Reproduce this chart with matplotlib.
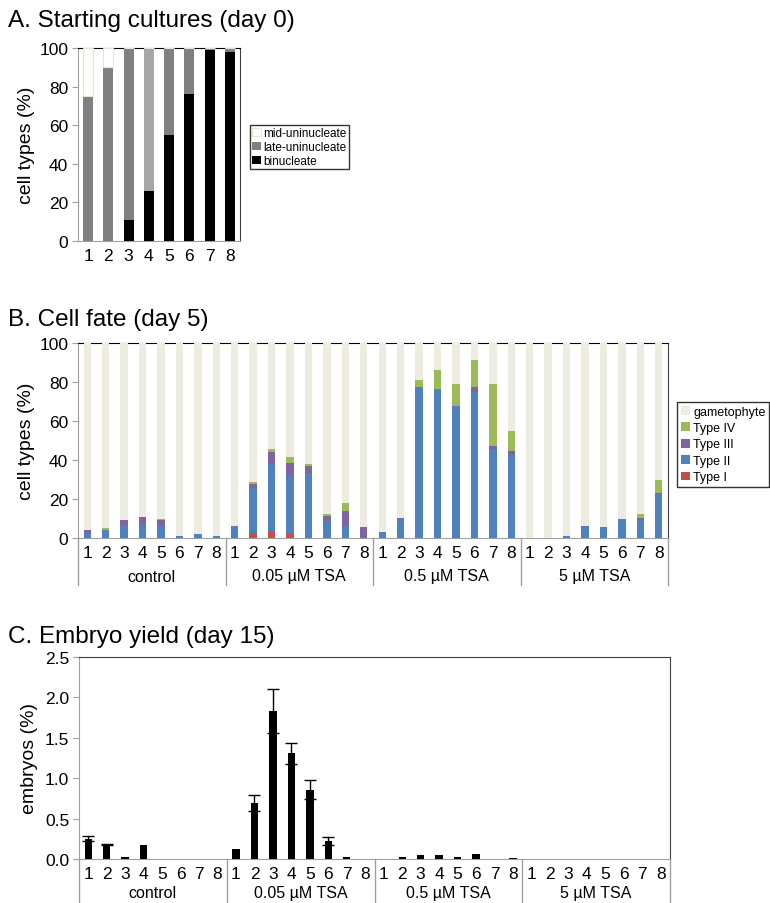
import numpy as np
import matplotlib.pyplot as plt

plt.rcParams['font.family'] = ['Liberation Sans', 'DejaVu Sans']

# ---- data ----
# A. starting cultures (day 0), % of cells
a_cats = ['1', '2', '3', '4', '5', '6', '7', '8']
a_bin = [0, 0, 11, 26, 55, 76, 99, 98]
a_late = [75, 90, 89, 74, 45, 24, 1, 2]
a_mid = [25, 10, 0, 0, 0, 0, 0, 0]

# B. cell fate (day 5), % of cells
groups = ['control', '0.05 µM TSA', '0.5 µM TSA', '5 µM TSA']
b_type1 = [0, 0, 0, 0, 0, 0, 0, 0,
           0, 2.8, 3.5, 1.8, 0, 0, 0, 0,
           0, 0, 0, 0, 0.5, 0, 0, 0,
           0, 0, 0, 0, 0, 0, 0, 0]
b_type2 = [2.5, 4.0, 6.0, 7.3, 6.3, 1.2, 1.8, 1.2,
           6.3, 22.7, 34.5, 30.2, 33.5, 8.7, 6.0, 0,
           3.2, 10.5, 77.5, 76.5, 67.0, 75.0, 45.5, 42.5,
           0, 0, 1.2, 6.2, 5.8, 9.7, 9.3, 22.5]
b_type3 = [1.8, 0.3, 3.4, 3.7, 2.9, 0, 0, 0,
           0, 2.0, 6.0, 6.5, 3.3, 2.5, 8.0, 5.8,
           0, 0, 0, 0, 0, 2.5, 1.5, 2.0,
           0, 0, 0, 0, 0, 0, 1.2, 0.5]
b_type4 = [0, 0.7, 0, 0, 0.6, 0, 0, 0,
           0, 1.0, 1.8, 3.0, 1.0, 1.0, 3.8, 0,
           0, 0, 3.7, 9.7, 11.5, 14.0, 32.0, 10.5,
           0, 0, 0, 0, 0, 0, 2.0, 6.7]

# C. embryo yield (day 15), %
c_mean = [0.25, 0.18, 0.02, 0.17, 0.0, 0.005, 0.0, 0.0,
          0.12, 0.69, 1.83, 1.31, 0.86, 0.22, 0.02, 0.005,
          0.005, 0.02, 0.05, 0.05, 0.03, 0.06, 0.005, 0.01,
          0, 0, 0, 0, 0, 0, 0, 0]
c_err = [0.03, 0.01, 0, 0, 0, 0, 0, 0,
         0, 0.10, 0.27, 0.13, 0.12, 0.05, 0, 0,
         0, 0, 0, 0, 0, 0, 0, 0,
         0, 0, 0, 0, 0, 0, 0, 0]

# ---- style ----
late_colors = ['#808080', '#808080', '#808080', '#a6a6a6',
               '#808080', '#808080', '#808080', '#808080']
c_gam = '#eeece1'
c_t4 = '#9bbb59'
c_t3 = '#8064a2'
c_t2 = '#4f81bd'
c_t1 = '#c0504d'
grey = '#a0a0a0'
dark = '#404040'

fig = plt.figure(figsize=(7.7, 9.04), dpi=100)


def style_axes(ax):
    ax.spines['left'].set_color(grey)
    ax.spines['bottom'].set_color(grey)
    ax.spines['right'].set_color(dark)
    ax.spines['top'].set_color(dark)
    ax.tick_params(axis='y', direction='out', length=4, color=grey,
                   labelsize=12.5, pad=3)
    ax.tick_params(axis='x', length=0, labelsize=12.5, pad=5)


def group_axis(ax, n_per, sep_depth, lab_y):
    trans = ax.get_xaxis_transform()
    for k in range(len(groups) + 1):
        xs = 0.5 + k * n_per
        ax.plot([xs, xs], [0, -sep_depth], color=grey, lw=1,
                transform=trans, clip_on=False)
    for k, g in enumerate(groups):
        ax.text(0.5 + k * n_per + n_per / 2, lab_y, g, transform=trans,
                ha='center', va='center', fontsize=11.5)


# ---- panel A ----
axA = fig.add_axes([78 / 770, 1 - 242 / 904, 162 / 770, 193 / 904])
xa = np.arange(1, len(a_cats) + 1)
w = 0.5
axA.bar(xa, a_bin, w, color='black', zorder=3, label='binucleate')
axA.bar(xa, a_late, w, bottom=a_bin, color=late_colors, zorder=3,
        label='late-uninucleate')
axA.bar(xa, a_mid, w, bottom=np.add(a_bin, a_late), color='white',
        edgecolor='#e6e6d2', lw=0.8, zorder=3, label='mid-uninucleate')
axA.set_xlim(0.5, 8.5)
axA.set_ylim(0, 100)
axA.set_yticks(range(0, 101, 20))
axA.set_xticks(xa)
axA.set_xticklabels(a_cats)
axA.set_ylabel('cell types (%)', fontsize=14, labelpad=3)
style_axes(axA)
axA.spines['top'].set_color('black')
h, l = axA.get_legend_handles_labels()
fig.legend(h[::-1], l[::-1], loc='upper left',
           bbox_to_anchor=(250 / 770, 1 - 126 / 904), fontsize=8.5,
           frameon=True, fancybox=False, edgecolor='black',
           handlelength=0.7, handleheight=0.7, handletextpad=0.2,
           labelspacing=0.15, borderpad=0.2, borderaxespad=0)

# ---- panel B ----
axB = fig.add_axes([78 / 770, 1 - 539 / 904, 590 / 770, 195 / 904])
xb = np.arange(1, len(b_type2) + 1)
wb = 0.4
t1 = np.array(b_type1)
t2 = np.array(b_type2)
t3 = np.array(b_type3)
t4 = np.array(b_type4)
gam = 100 - (t1 + t2 + t3 + t4)
axB.bar(xb, t1, wb, color=c_t1, zorder=3, label='Type I')
axB.bar(xb, t2, wb, bottom=t1, color=c_t2, zorder=3, label='Type II')
axB.bar(xb, t3, wb, bottom=t1 + t2, color=c_t3, zorder=3, label='Type III')
axB.bar(xb, t4, wb, bottom=t1 + t2 + t3, color=c_t4, zorder=3,
        label='Type IV')
axB.bar(xb, gam, wb, bottom=t1 + t2 + t3 + t4, color=c_gam, zorder=3,
        label='gametophyte')
axB.set_xlim(0.5, 32.5)
axB.set_ylim(0, 100)
axB.set_yticks(range(0, 101, 20))
axB.set_xticks(xb)
axB.set_xticklabels(a_cats * 4)
axB.set_ylabel('cell types (%)', fontsize=14, labelpad=3)
style_axes(axB)
axB.spines['top'].set_color('black')
group_axis(axB, 8, 47 / 195, -38 / 195)
h, l = axB.get_legend_handles_labels()
fig.legend(h[::-1], l[::-1], loc='upper left',
           bbox_to_anchor=(677 / 770, 1 - 403 / 904), fontsize=9,
           frameon=True, fancybox=False, edgecolor='black',
           handlelength=0.7, handleheight=0.7, handletextpad=0.3,
           labelspacing=0.35, borderpad=0.3, borderaxespad=0)

# ---- panel C ----
axC = fig.add_axes([79 / 770, 1 - 860 / 904, 591 / 770, 202 / 904])
xc = np.arange(1, len(c_mean) + 1)
axC.bar(xc, c_mean, 0.4, color='black', zorder=3)
has_err = np.array(c_err) > 0
axC.errorbar(xc[has_err], np.array(c_mean)[has_err],
             yerr=np.array(c_err)[has_err], fmt='none', ecolor='black',
             elinewidth=1, capsize=4, capthick=1, zorder=4)
axC.set_xlim(0.5, 32.5)
axC.set_ylim(0, 2.5)
axC.set_yticks(np.arange(0, 2.51, 0.5))
axC.set_yticklabels(['%.1f' % v for v in np.arange(0, 2.51, 0.5)])
axC.set_xticks(xc)
axC.set_xticklabels(a_cats * 4)
axC.set_ylabel('embryos (%)', fontsize=14, labelpad=5)
style_axes(axC)
axC.tick_params(axis='x', pad=5)
group_axis(axC, 8, 0.3, -34 / 202)

# ---- panel titles ----
fig.text(8 / 770, 1 - 21 / 904, 'A. Starting cultures (day 0)',
         fontsize=17.5, va='center', ha='left')
fig.text(8 / 770, 1 - 320 / 904, 'B. Cell fate (day 5)',
         fontsize=17.5, va='center', ha='left')
fig.text(8 / 770, 1 - 637 / 904, 'C. Embryo yield (day 15)',
         fontsize=17.5, va='center', ha='left')

fig.savefig('out.png', dpi=100)
